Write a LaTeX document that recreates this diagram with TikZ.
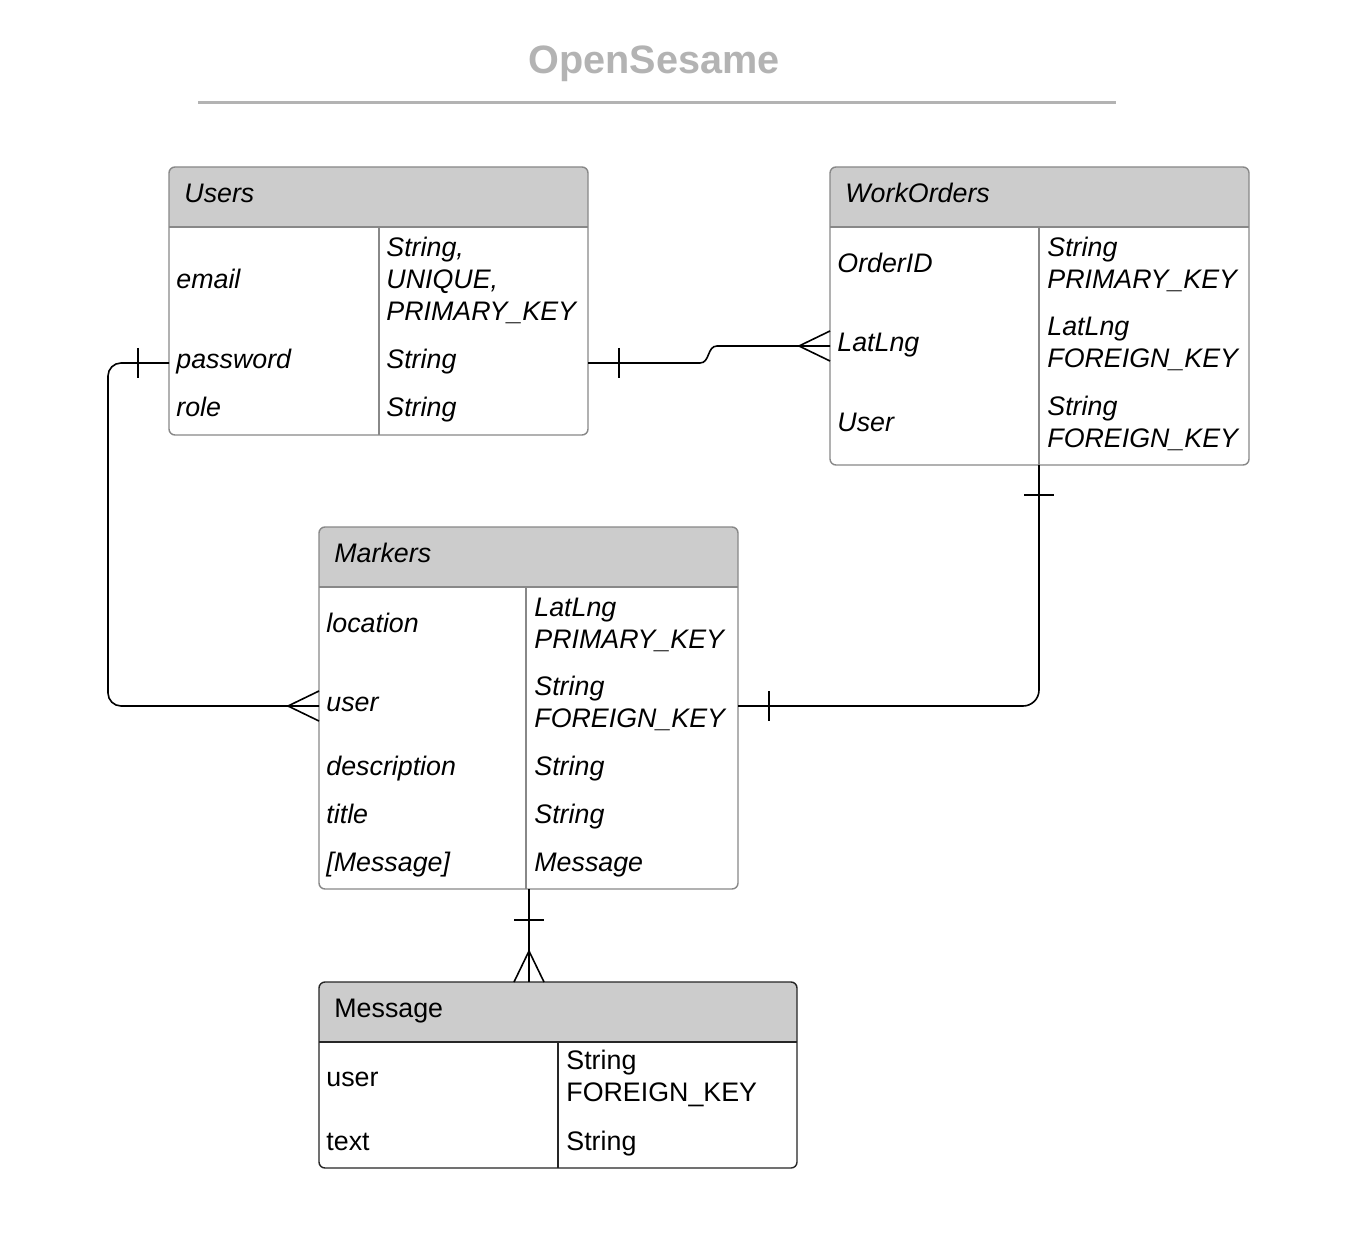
\documentclass[tikz,border=0pt]{standalone}
\usepackage{fontspec}
\setmainfont{Liberation Sans}
\usetikzlibrary{calc}
\definecolor{hdrgray}{HTML}{CCCCCC}
\definecolor{edge}{HTML}{888888}
\definecolor{titlegray}{HTML}{B3B3B3}

\tikzset{
  box/.style={draw=edge,line width=0.7pt,rounded corners=3pt},
  hdr/.style={fill=hdrgray},
  sep/.style={draw=edge,line width=0.7pt},
  fld/.style={anchor=west,align=left,inner sep=0pt,font=\fontsize{13.4}{16}\selectfont\itshape},
  one/.style={fld,text height=9.8pt,text depth=0pt},
  plainfld/.style={fld,font=\fontsize{13.4}{16}\selectfont\upshape},
  plainone/.style={plainfld,text height=9.8pt,text depth=0pt},
  rel/.style={draw=black,line width=0.8pt},
}

\begin{document}
\begin{tikzpicture}[x=0.5pt,y=-0.5pt]
  \useasboundingbox (0,0) rectangle (1358,1256);
  \fill[white] (0,0) rectangle (1358,1256);
  % title
  \node[font=\fontsize{19.8}{24}\selectfont\bfseries,text=titlegray] (title) at (654,64) {OpenSesame};
  \draw[titlegray,line width=1.5pt] (198,103) -- (1116,103);
  % Users
  \fill[hdr] (169,227) [rounded corners=3pt] -- (169,167) -- (588,167) [sharp corners] -- (588,227) -- cycle;
  \draw[box] (169,167) rectangle (588,435);
  \draw[sep] (169,227) -- (588,227) (379,227) -- (379,435);
  \node[one] (users) at (184,193) {Users};
  \node[one] (users-email) at (176,279) {email};
  \node[fld] (users-email-t) at (386,280) {String,\\UNIQUE,\\PRIMARY\_KEY};
  \node[one] (users-pw) at (176,359) {password};
  \node[one] (users-pw-t) at (386,359) {String};
  \node[one] (users-role) at (176,407) {role};
  \node[one] (users-role-t) at (386,407) {String};
  % WorkOrders
  \fill[hdr] (830,227) [rounded corners=3pt] -- (830,167) -- (1249,167) [sharp corners] -- (1249,227) -- cycle;
  \draw[box] (830,167) rectangle (1249,465);
  \draw[sep] (830,227) -- (1249,227) (1039,227) -- (1039,465);
  \node[one] (wo) at (845,193) {WorkOrders};
  \node[one] (wo-id) at (837,263) {OrderID};
  \node[fld] (wo-id-t) at (1047,264) {String\\PRIMARY\_KEY};
  \node[one] (wo-ll) at (837,342) {LatLng};
  \node[fld] (wo-ll-t) at (1047,344) {LatLng\\FOREIGN\_KEY};
  \node[one] (wo-user) at (837,422) {User};
  \node[fld] (wo-user-t) at (1047,423) {String\\FOREIGN\_KEY};
  % Markers
  \fill[hdr] (319,587) [rounded corners=3pt] -- (319,527) -- (738,527) [sharp corners] -- (738,587) -- cycle;
  \draw[box] (319,527) rectangle (738,889);
  \draw[sep] (319,587) -- (738,587) (526,587) -- (526,889);
  \node[one] (mk) at (334,553) {Markers};
  \node[one] (mk-loc) at (326,623) {location};
  \node[fld] (mk-loc-t) at (534,625) {LatLng\\PRIMARY\_KEY};
  \node[one] (mk-user) at (326,702) {user};
  \node[fld] (mk-user-t) at (534,703) {String\\FOREIGN\_KEY};
  \node[one] (mk-desc) at (326,766) {description};
  \node[one] (mk-desc-t) at (534,766) {String};
  \node[one] (mk-title) at (326,814) {title};
  \node[one] (mk-title-t) at (534,814) {String};
  \node[one] (mk-msg) at (326,862) {[Message]};
  \node[one] (mk-msg-t) at (534,862) {Message};
  % Message
  \fill[hdr] (319,1042) [rounded corners=3pt] -- (319,982) -- (797,982) [sharp corners] -- (797,1042) -- cycle;
  \draw[box,draw=black!85] (319,982) rectangle (797,1168);
  \draw[sep,draw=black!85] (319,1042) -- (797,1042) (558,1042) -- (558,1168);
  \node[plainone] (msg) at (334,1008) {Message};
  \node[plainone] (msg-user) at (326,1077) {user};
  \node[plainfld] (msg-user-t) at (566,1078) {String\\FOREIGN\_KEY};
  \node[plainone] (msg-text) at (326,1141) {text};
  \node[plainone] (msg-text-t) at (566,1141) {String};
  % relations
  \coordinate (users-pw-e) at (588,363);
  \coordinate (users-pw-w) at (169,363);
  \coordinate (wo-ll-w) at (830,346);
  \coordinate (wo-s) at (1039,465);
  \coordinate (mk-user-w) at (319,706);
  \coordinate (mk-user-e) at (738,706);
  \coordinate (mk-s) at (529,889);
  \coordinate (msg-n) at (529,982);
  % Users -- WorkOrders
  \draw[rel] (users-pw-e) -- ++(112,0) .. controls +(10,0) and +(-10,0) .. ++(17,-17) -- (wo-ll-w);
  \draw[rel] ($(users-pw-e)+(31,-15)$) -- ($(users-pw-e)+(31,15)$);
  \draw[rel] ($(wo-ll-w)+(0,-15)$) -- ($(wo-ll-w)+(-31,0)$) -- ($(wo-ll-w)+(0,15)$);
  % Users -- Markers
  \draw[rel,rounded corners=6.5pt] (users-pw-w) -- ++(-61,0) |- (mk-user-w);
  \draw[rel] ($(users-pw-w)+(-31,-15)$) -- ($(users-pw-w)+(-31,15)$);
  \draw[rel] ($(mk-user-w)+(0,-15)$) -- ($(mk-user-w)+(-31,0)$) -- ($(mk-user-w)+(0,15)$);
  % WorkOrders -- Markers
  \draw[rel,rounded corners=8pt] (wo-s) |- (mk-user-e);
  \draw[rel] ($(wo-s)+(-15,30)$) -- ($(wo-s)+(15,30)$);
  \draw[rel] ($(mk-user-e)+(31,-15)$) -- ($(mk-user-e)+(31,15)$);
  % Markers -- Message
  \draw[rel] (mk-s) -- (msg-n);
  \draw[rel] ($(mk-s)+(-15,31)$) -- ($(mk-s)+(15,31)$);
  \draw[rel] ($(msg-n)+(-15,0)$) -- ($(msg-n)+(0,-31)$) -- ($(msg-n)+(15,0)$);
\end{tikzpicture}
\end{document}
